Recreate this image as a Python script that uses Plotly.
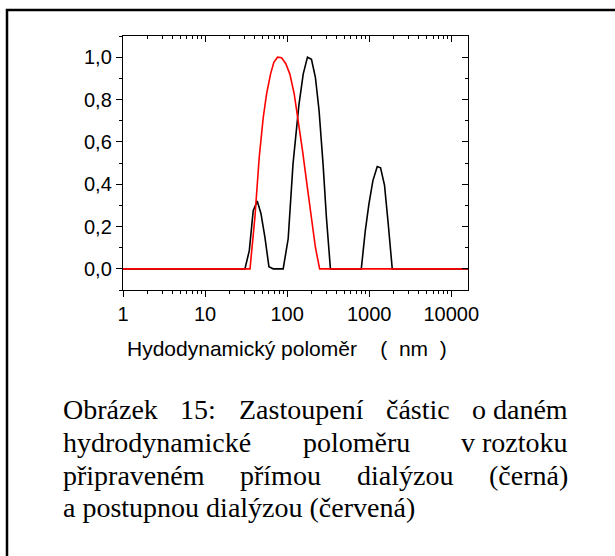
import plotly.graph_objects as go
import math

# ---------------- data ----------------
x_black = [1, 30.6, 34.6, 38.6, 43.2, 47.9, 53.6, 60, 67.6, 89.5, 103, 118, 139, 157, 177,
           198, 221, 245, 274, 301, 337, 801, 897, 993, 1110, 1254, 1376, 1538, 1706, 1910, 16000]
y_black = [0, 0, 0.086, 0.275, 0.32, 0.263, 0.15, 0.01, 0, 0, 0.142, 0.496, 0.772, 0.92, 1.0,
           0.99, 0.905, 0.748, 0.496, 0.244, 0, 0, 0.181, 0.307, 0.417, 0.483, 0.477, 0.394, 0.213, 0, 0]

x_red = [1, 35.3, 40.5, 45.7, 51.2, 56.2, 62.8, 68.9, 76.4, 85.5, 96.4, 108, 122, 136, 154,
         172, 194, 221, 249, 16000]
y_red = [0, 0, 0.244, 0.527, 0.716, 0.827, 0.92, 0.976, 1.0, 0.997, 0.969, 0.92, 0.827, 0.709,
         0.559, 0.417, 0.26, 0.102, 0, 0]

x_tick_vals = [1, 10, 100, 1000, 10000]
x_tick_text = ["1", "10", "100", "1000", "10000"]
y_tick_vals = [0, 0.2, 0.4, 0.6, 0.8, 1.0]
y_tick_text = ["0,0", "0,2", "0,4", "0,6", "0,8", "1,0"]
x_minor_vals = [m * 10 ** k for k in range(0, 5) for m in range(2, 10)]

NB = "\u00a0"
x_title = "Hydodynamický poloměr" + NB * 4 + "(" + NB * 2 + "nm" + NB * 2 + ")"

caption_lines = [
    ["Obrázek", "15:", "Zastoupení", "částic", "o" + NB + "daném"],
    ["hydrodynamické", "poloměru", "v" + NB + "roztoku"],
    ["připraveném", "přímou", "dialýzou", "(černá)"],
    ["a postupnou dialýzou (červená)"],
]
caption_justify = [True, True, True, False]

# Times / Liberation Serif advance widths (1/1000 em) for justification
TIMES_W = {" ": 250, NB: 250, "a": 444, "b": 500, "c": 444, "d": 500, "e": 444, "h": 500,
           "i": 278, "k": 500, "l": 278, "m": 778, "n": 500, "o": 500, "p": 500, "r": 333,
           "s": 389, "t": 278, "u": 500, "v": 500, "y": 500, "z": 444, "á": 444, "é": 444,
           "í": 278, "ý": 500, "č": 444, "ě": 444, "ř": 333, "O": 722, "Z": 611, "1": 500,
           "5": 500, ":": 278, "(": 333, ")": 333}


def text_w(s, size):
    return sum(TIMES_W.get(ch, 500) for ch in s) / 1000.0 * size


# ---------------- layout geometry (pixels) ----------------
W, H = 615, 556
L, R, T, B = 123, 468, 36, 290


def px(x):
    return (x - L) / (R - L)


def py(y):
    return (B - y) / (B - T)


fig = go.Figure()
fig.add_trace(go.Scatter(x=x_black, y=y_black, mode="lines",
                         line=dict(color="black", width=1.6), showlegend=False, hoverinfo="skip"))
fig.add_trace(go.Scatter(x=x_red, y=y_red, mode="lines",
                         line=dict(color="#ff0000", width=1.6), showlegend=False, hoverinfo="skip"))
# helper trace to activate mirrored (top/right) axes
fig.add_trace(go.Scatter(x=[1], y=[-5], xaxis="x2", yaxis="y2", mode="markers",
                         marker=dict(opacity=0), showlegend=False, hoverinfo="skip"))

xr = [0, math.log10(16000)]
yr = [-0.1, 1.1]
tickfont = dict(family="Liberation Sans, Arial", size=20, color="black")

fig.update_layout(
    width=W, height=H,
    margin=dict(l=L, r=W - R, t=T, b=H - B, pad=0),
    paper_bgcolor="white", plot_bgcolor="white",
    xaxis=dict(type="log", range=xr, tickmode="array", tickvals=x_tick_vals, ticktext=x_tick_text,
               ticks="outside", ticklen=6, tickwidth=1.3, tickcolor="black",
               showline=True, linecolor="black", linewidth=1.4, showgrid=False, zeroline=False,
               tickfont=tickfont,
               minor=dict(tickmode="array", tickvals=x_minor_vals, ticks="outside", ticklen=3,
                          tickwidth=1, tickcolor="black", showgrid=False)),
    yaxis=dict(range=yr, tickmode="array", tickvals=y_tick_vals, ticktext=y_tick_text,
               ticks="outside", ticklen=6, tickwidth=1.3, tickcolor="black",
               showline=True, linecolor="black", linewidth=1.4, showgrid=False, zeroline=False,
               tickfont=tickfont,
               minor=dict(dtick=0.1, tick0=0, ticks="outside", ticklen=3, tickwidth=1,
                          tickcolor="black", showgrid=False)),
    xaxis2=dict(type="log", range=xr, overlaying="x", side="top", anchor="y2",
                tickmode="array", tickvals=x_tick_vals, showticklabels=False,
                ticks="inside", ticklen=6, tickwidth=1.3, tickcolor="black",
                showline=True, linecolor="black", linewidth=1.4, showgrid=False, zeroline=False,
                minor=dict(tickmode="array", tickvals=x_minor_vals, ticks="inside", ticklen=3,
                           tickwidth=1, tickcolor="black", showgrid=False)),
    yaxis2=dict(range=yr, overlaying="y", side="right", anchor="x2",
                tickmode="array", tickvals=y_tick_vals, showticklabels=False,
                ticks="inside", ticklen=6, tickwidth=1.3, tickcolor="black",
                showline=True, linecolor="black", linewidth=1.4, showgrid=False, zeroline=False,
                minor=dict(dtick=0.1, tick0=0, ticks="inside", ticklen=3, tickwidth=1,
                           tickcolor="black", showgrid=False)),
)

# outer frame (top and left edges visible; continues past the right/bottom edge)
fig.add_shape(type="rect", xref="paper", yref="paper",
              x0=px(7), y0=py(10), x1=px(660), y1=py(600),
              line=dict(color="black", width=2.5), fillcolor="rgba(0,0,0,0)", layer="above")

annotations = []
annotations.append(dict(text=x_title, x=px(125), y=py(348), xref="paper", yref="paper",
                        xanchor="left", yanchor="middle", showarrow=False,
                        font=dict(family="Liberation Sans, Arial", size=21, color="black")))

CAP_SIZE = 28
capfont = dict(family="Liberation Serif, Times New Roman", size=CAP_SIZE, color="black")
cap_left, cap_right = 62, 567
line_y = [409, 442, 475, 507]
for words, just, yy in zip(caption_lines, caption_justify, line_y):
    widths = [text_w(w, CAP_SIZE) for w in words]
    if just and len(words) > 1:
        gap = (cap_right - cap_left - sum(widths)) / (len(words) - 1)
    else:
        gap = text_w(" ", CAP_SIZE)
    xx = cap_left
    for w, ww in zip(words, widths):
        annotations.append(dict(text=w, x=px(xx), y=py(yy), xref="paper", yref="paper",
                                xanchor="left", yanchor="middle", showarrow=False, font=capfont,
                                borderpad=0))
        xx += ww + gap
fig.update_layout(annotations=annotations)

fig.write_html("out.html")
